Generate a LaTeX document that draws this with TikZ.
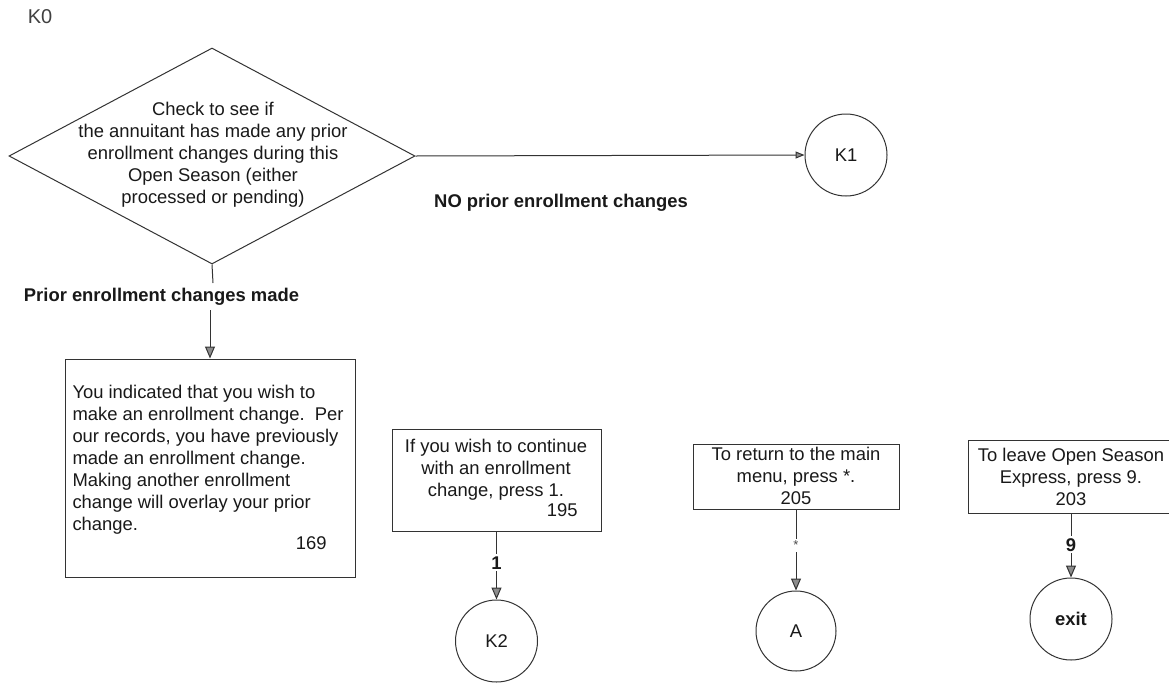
\documentclass[tikz,border=0pt]{standalone}
\usepackage{fontspec}
\setmainfont{Liberation Sans}
\usetikzlibrary{shapes.geometric,arrows.meta}
\begin{document}
\begin{tikzpicture}[x=1pt,y=-1pt,
  line width=1pt,
  ln/.style={draw=black!80},
  arr/.style={ln,-{Triangle[length=12pt,width=10pt,fill=black!45]}},
  arrsm/.style={ln,-{Triangle[length=9pt,width=7pt,fill=black!45]}},
  txt/.style={font=\fontsize{18.4}{22}\selectfont, inner sep=0pt, text=black!90},
  bold/.style={txt, font=\fontsize{18.4}{22}\selectfont\bfseries},
  boxnode/.style={draw=black!80, rectangle, inner sep=0pt},
  conn/.style={draw=black!80, circle, inner sep=0pt},
  lbl/.style={fill=white, inner sep=2pt},
]
\clip (0,0) rectangle (1169,683);
\fill[white] (0,0) rectangle (1169,683);

\node[txt, font=\fontsize{20}{24}\selectfont, text=black!75] (k0) at (40,17) {K0};

% decision
\node[diamond, draw=black!80, minimum width=406pt, minimum height=216pt, inner sep=0pt] (d) at (212,156) {};
\node[txt, align=center] (dt) at (213,155) {Check to see if\\the annuitant has made any prior\\enrollment changes during this\\Open Season (either\\processed or pending)};

% K1
\node[conn, txt, minimum size=82pt] (k1) at (846,155) {K1};
\draw[arrsm] (d.east) -- (k1.west);
\node[bold] (lno) at (561,203) {NO prior enrollment changes};

% prior changes branch
\node[bold] (lprior) at (161.5,297) {Prior enrollment changes made};
\coordinate (c1) at (213,283);
\coordinate (c2) at (210,310);
\draw[ln] (d.south) -- (c1);

\node[boxnode, minimum width=290pt, minimum height=218pt] (box1) at (210,468) {};
\draw[arr] (c2) -- (box1.north);
\node[txt, align=left, anchor=north west] (t1) at (72,385) {You indicated that you wish to\\make an enrollment change.\ \ Per\\our records, you have previously\\made an enrollment change.\\Making another enrollment\\change will overlay your prior\\change.};
\node[txt, anchor=east] (n169) at (327,543) {169};

% box 2
\node[boxnode, minimum width=209pt, minimum height=102pt] (box2) at (496.5,480) {};
\node[txt, align=center] (t2) at (496,470) {If you wish to continue\\with an enrollment\\change, press 1.};
\node[txt, anchor=east] (n195) at (578,510) {195};
\node[conn, txt, minimum size=82pt] (k2) at (496.5,641) {K2};
\draw[arr] (box2.south) -- node[bold, lbl, pos=0.46] {1} (k2.north);

% box 3
\node[boxnode, minimum width=206pt, minimum height=65pt] (box3) at (796,476.5) {};
\node[txt, align=center] (t3) at (796,476) {To return to the main\\menu, press *.\\205};
\node[conn, txt, minimum size=80pt] (ca) at (796,631) {A};
\draw[arr] (box3.south) -- node[txt, lbl, pos=0.44, font=\fontsize{13}{14}\selectfont, text=black!70] {*} (ca.north);

% box 4
\node[boxnode, minimum width=206pt, minimum height=73pt] (box4) at (1071,476.5) {};
\node[txt, align=center] (t4) at (1071,477) {To leave Open Season\\Express, press 9.\\203};
\node[conn, bold, minimum size=82pt] (cexit) at (1071,619) {exit};
\draw[arr] (box4.south) -- node[bold, lbl, pos=0.49] {9} (cexit.north);
\end{tikzpicture}
\end{document}
